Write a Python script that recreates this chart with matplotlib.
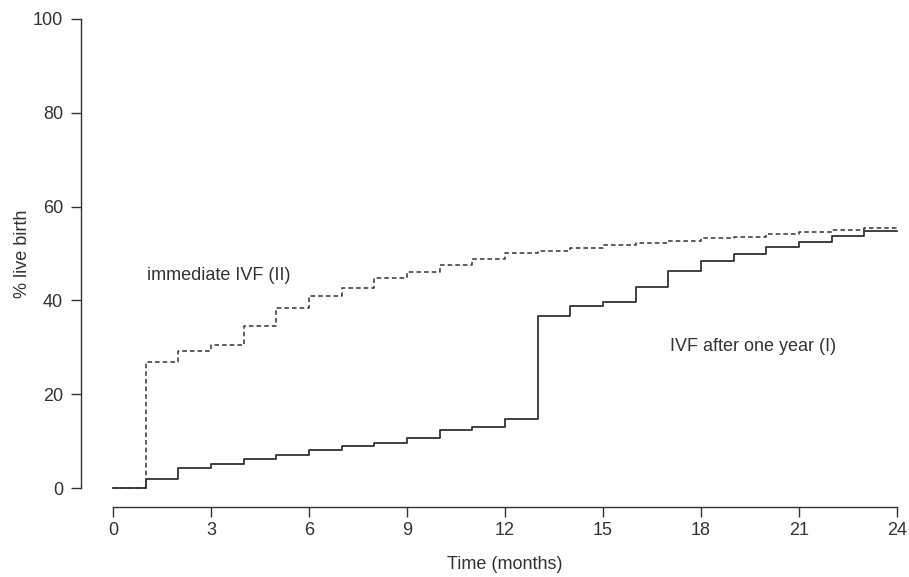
import numpy as np
import matplotlib.pyplot as plt

plt.rcParams['font.family'] = ['Liberation Sans', 'DejaVu Sans']

# months and cumulative % live birth
months = list(range(0, 25))
ivf_after_year = [0.0, 1.9, 4.2, 5.1, 6.2, 7.1, 8.0, 9.0, 9.7, 10.7, 12.4, 13.0, 14.7,
                  36.7, 38.7, 39.7, 42.9, 46.3, 48.3, 49.8, 51.4, 52.5, 53.7, 54.8, 54.8]
immediate_ivf = [0.0, 26.9, 29.3, 30.5, 34.5, 38.4, 40.9, 42.7, 44.7, 46.1, 47.5, 48.8, 50.1,
                 50.6, 51.1, 51.7, 52.2, 52.7, 53.2, 53.6, 54.1, 54.5, 55.0, 55.4, 55.9]
xticks = [0, 3, 6, 9, 12, 15, 18, 21, 24]
yticks = [0, 20, 40, 60, 80, 100]

ink = '#333333'
fs = 13

fig = plt.figure(figsize=(9.09, 5.77), dpi=100)
ax = fig.add_axes([81 / 909, 1 - 507 / 577, (900 - 81) / 909, (507 - 10) / 577])

ax.step(months, immediate_ivf, where='post', color=ink, lw=1.1, linestyle=(0, (3, 2)))
ax.step(months, ivf_after_year, where='post', color=ink, lw=1.3)

ax.text(1.04, 45.2, 'immediate IVF (II)', fontsize=fs, color=ink, va='center', ha='left')
ax.text(17.05, 30.1, 'IVF after one year (I)', fontsize=fs, color=ink, va='center', ha='left')

ax.set_xlim(-0.98, 24.09)
ax.set_ylim(-4.05, 101.9)

for s in ['top', 'right']:
    ax.spines[s].set_visible(False)
ax.spines['left'].set_bounds(0, 100)
ax.spines['bottom'].set_bounds(0, 24)
for s in ['left', 'bottom']:
    ax.spines[s].set_color(ink)
    ax.spines[s].set_linewidth(1.0)

ax.set_xticks(xticks)
ax.set_yticks(yticks)
ax.tick_params(direction='out', length=7, width=1.0, color=ink, labelcolor=ink, labelsize=fs)
ax.tick_params(axis='x', pad=4)
ax.tick_params(axis='y', pad=6)

ax.set_xlabel('Time (months)', fontsize=fs, color=ink)
ax.set_ylabel('% live birth', fontsize=fs, color=ink)
ax.xaxis.set_label_coords((505 - 81) / 819, -0.098)
ax.yaxis.set_label_coords(-0.061, (507 - 253.5) / 497)

fig.savefig('out.png', dpi=100)
